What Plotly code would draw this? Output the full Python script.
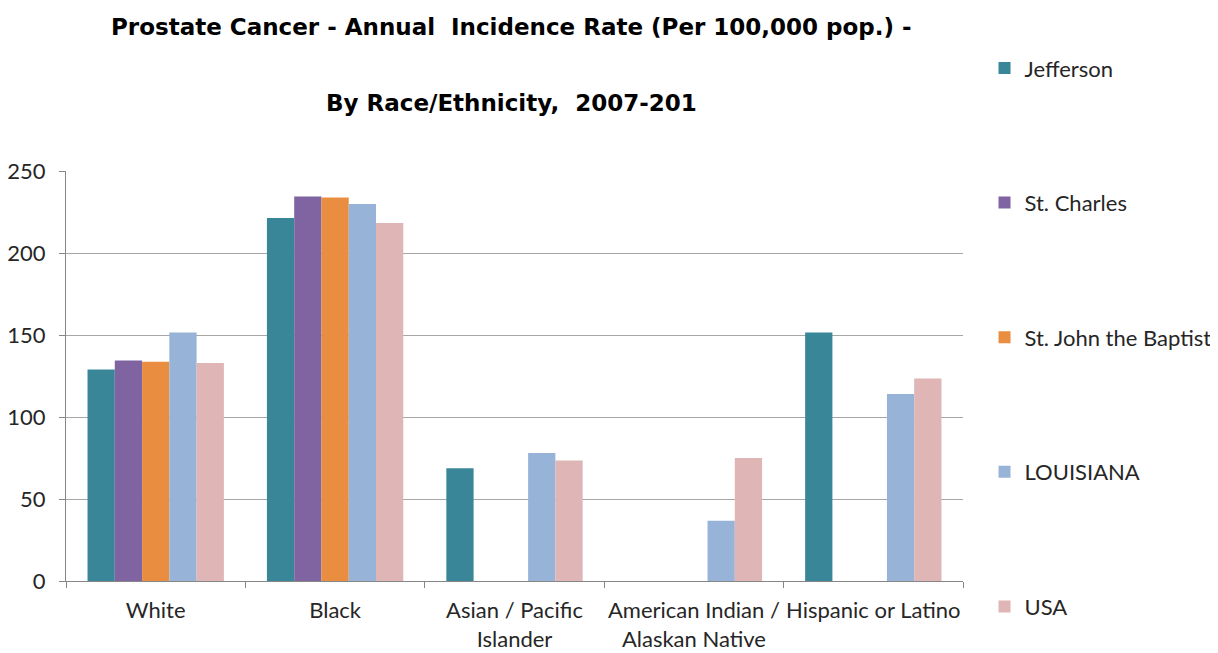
import plotly.graph_objects as go

categories = ["White", "Black", "Asian / Pacific<br>Islander",
              "American Indian /<br>Alaskan Native", "Hispanic or Latino"]

jefferson = [129, 221.3, 68.7, None, 151.6]
st_charles = [134.5, 234.5, None, None, None]
st_john = [133.7, 233.9, None, None, None]
louisiana = [151.6, 229.9, 78.1, 36.8, 114.0]
usa = [132.9, 218.3, 73.4, 75.0, 123.5]

series = [
    ("Jefferson", jefferson, "#3A8699"),
    ("St. Charles", st_charles, "#8064A2"),
    ("St. John the Baptist", st_john, "#E98D41"),
    ("LOUISIANA", louisiana, "#97B3D7"),
    ("USA", usa, "#DFB5B5"),
]

FONT = "Lato"
TXT = "#262626"

# page body has an 8px margin, so the figure is a bit smaller than the window
fig = go.Figure()
for i, (name, vals, col) in enumerate(series):
    fig.add_trace(go.Bar(x=categories, y=vals, name=name, legendgroup=str(i),
                         marker=dict(color=col, line=dict(width=0))))

fig.update_layout(
    width=1210, height=645,
    margin=dict(l=58, r=255, t=163, b=72, autoexpand=False),
    plot_bgcolor="white", paper_bgcolor="white",
    barmode="group", bargap=0.24, bargroupgap=0,
    font=dict(family=FONT, size=22, color=TXT),
    showlegend=True,
    legend=dict(x=1.024, xanchor="left", y=1.302, yanchor="top",
                tracegroupgap=103, font=dict(size=22, color=TXT),
                itemwidth=30, bgcolor="rgba(0,0,0,0)", maxheight=700),
)

fig.update_xaxes(showline=True, linecolor="#868686", linewidth=1,
                 ticks="outside", tickson="boundaries", ticklen=6,
                 tickcolor="#868686", tickfont=dict(size=22, color=TXT),
                 tickangle=0, ticklabelstandoff=10)
fig.update_yaxes(range=[0, 250], dtick=50, showgrid=True, gridcolor="#A6A6A6",
                 gridwidth=1, showline=True, linecolor="#868686", linewidth=1,
                 ticks="outside", ticklen=6, tickcolor="#868686",
                 tickfont=dict(size=22, color=TXT), zeroline=False,
                 ticklabelstandoff=9)

title_font = dict(family="DejaVu Sans", size=23, color="#000000", weight="bold")
fig.add_annotation(text="Prostate Cancer - Annual  Incidence Rate (Per 100,000 pop.) -",
                   xref="paper", yref="paper", x=(511 - 66) / 897, y=(581 - 27) / 410,
                   xanchor="center", yanchor="middle", showarrow=False, font=title_font)
fig.add_annotation(text="By Race/Ethnicity,  2007-201",
                   xref="paper", yref="paper", x=(511 - 66) / 897, y=(581 - 103) / 410,
                   xanchor="center", yanchor="middle", showarrow=False, font=title_font)

fig.write_html("out.html")
